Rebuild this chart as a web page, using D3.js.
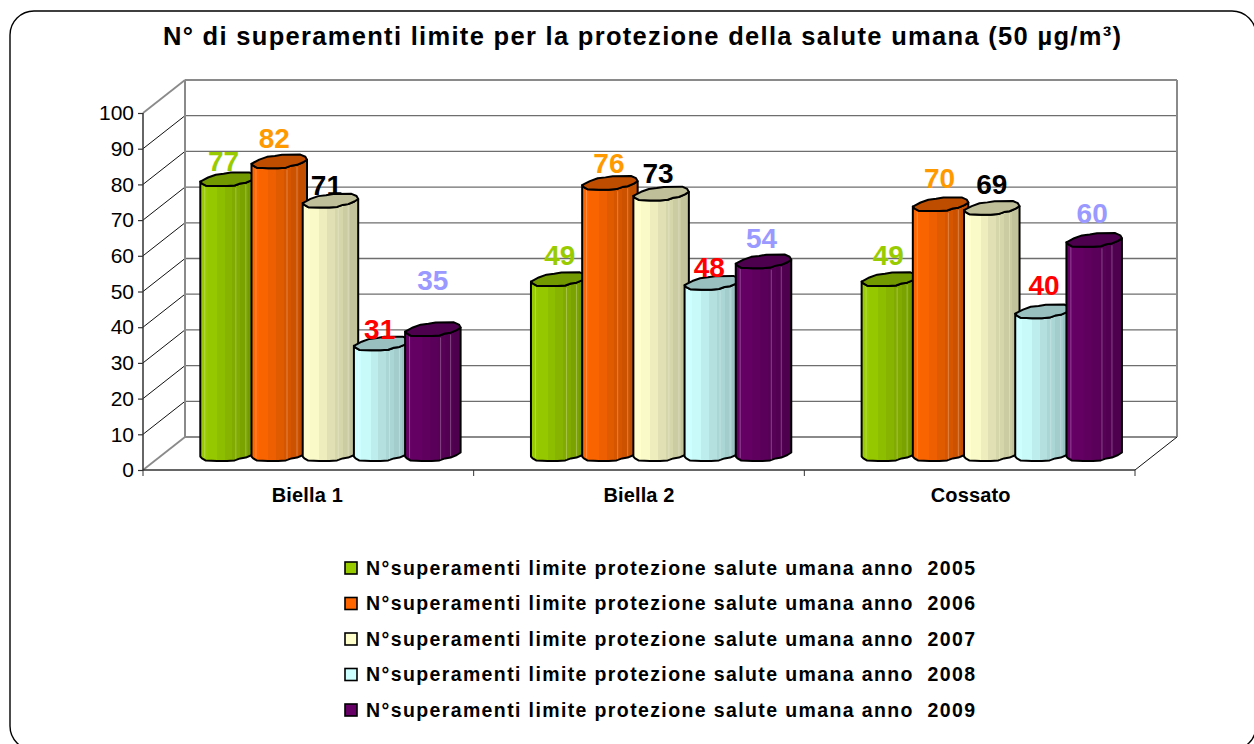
<!DOCTYPE html>
<html><head><meta charset="utf-8">
<script src="https://d3js.org/d3.v7.min.js"></script>
<style>html,body{margin:0;padding:0;background:#fff;overflow:hidden}svg{display:block}text{font-family:"Liberation Sans",Arial,sans-serif}</style>
</head><body><svg id="c" width="1254" height="744"></svg>
<script>
const titleText = "N° di superamenti limite per la protezione della salute umana (50 µg/m³)";
const categories = ["Biella 1", "Biella 2", "Cossato"];
const seriesNames = [
  "N°superamenti limite protezione salute umana anno  2005",
  "N°superamenti limite protezione salute umana anno  2006",
  "N°superamenti limite protezione salute umana anno  2007",
  "N°superamenti limite protezione salute umana anno  2008",
  "N°superamenti limite protezione salute umana anno  2009"];
const values2005 = [77, 49, 49];
const values2006 = [82, 76, 70];
const values2007 = [71, 73, 69];
const values2008 = [31, 48, 40];
const values2009 = [35, 54, 60];
const allValues = [values2005, values2006, values2007, values2008, values2009];
const yTicks = [0,10,20,30,40,50,60,70,80,90,100];
const fills = ["#99CC00","#FF6600","#FFFFCC","#CCFFFF","#660066"];
const labelColors = ["#99CC00","#FF9900","#000000","#FF0000","#9999FF"];
// hand-placed data label nudges, [dx, lift] per series per category
const labelNudge = [
  [[-4.5,25],[1,31],[-1,31]],
  [[-5,30],[-1,27],[-1,33]],
  [[-4,22.5],[-3,27],[0,30.7]],
  [[-2,21],[-3,22.6],[1,33]],
  [[0,56],[-2,30],[-2,34]]];

const svg = d3.select("#c");
const defs = svg.append("defs");

// frame
svg.append("rect").attr("x",10).attr("y",11).attr("width",1246).attr("height",739).attr("rx",24)
  .attr("fill","#fff").attr("stroke","#000").attr("stroke-width",1.4);

// title
svg.append("text").attr("x",163).attr("y",45).attr("font-size",25.5).attr("font-weight","bold")
  .attr("textLength",958).attr("lengthAdjust","spacing").text(titleText);

// projection
const frontX0=143, frontX1=1135, depthX=42, depthY=33;
const y = d3.scaleLinear().domain([0,100]).range([470,113]);
const x0 = d3.scaleBand().domain(categories).range([frontX0,frontX1]);
const barStep = 51.2, barW = 55.5, barInset = 57.3, baseLift = 9;
const gridC="#6e6e6e";

// back wall + grid
const wall = svg.append("g").attr("fill","none");
wall.selectAll("line.g").data(yTicks).join("line")
  .attr("x1",frontX0+depthX).attr("x2",frontX1+depthX)
  .attr("y1",d=>y(d)-depthY).attr("y2",d=>y(d)-depthY)
  .attr("stroke",d=>(d===0||d===100)?"#8a8a8a":gridC)
  .attr("stroke-width",d=>(d===0||d===100)?2:1.3);
wall.selectAll("line.s").data(yTicks).join("line")
  .attr("x1",frontX0).attr("x2",frontX0+depthX)
  .attr("y1",d=>y(d)).attr("y2",d=>y(d)-depthY)
  .attr("stroke",d=>(d===0||d===100)?"#8a8a8a":"#111")
  .attr("stroke-width",d=>(d===0||d===100)?1.8:1);
[frontX0+depthX, frontX1+depthX].forEach(px=>{
  wall.append("line").attr("x1",px).attr("x2",px).attr("y1",y(100)-depthY).attr("y2",y(0)-depthY)
    .attr("stroke","#8a8a8a").attr("stroke-width",2);
});
wall.append("line").attr("x1",frontX1).attr("x2",frontX1+depthX).attr("y1",y(0)).attr("y2",y(0)-depthY)
  .attr("stroke","#111").attr("stroke-width",1);

// axes
const yAxis = d3.axisLeft(y).tickValues(yTicks).tickSize(5).tickPadding(4);
const ga = svg.append("g").attr("transform",`translate(${frontX0},0)`).call(yAxis);
ga.selectAll("path").attr("stroke","#333").attr("stroke-width",1.5).attr("d",`M0,${y(100)}V${y(0)}`);
ga.selectAll("line").attr("stroke","#333").attr("stroke-width",1.2);
ga.selectAll("text").attr("font-size",21).attr("fill","#000").style("font-family",'"Liberation Sans",Arial,sans-serif');

const xAxis = d3.axisBottom(x0).tickSize(0).tickPadding(18);
const gx = svg.append("g").attr("transform",`translate(0,${y(0)})`).call(xAxis);
gx.selectAll("path").attr("stroke","#333").attr("stroke-width",1.3).attr("d",`M${frontX0},0H${frontX1}`);
gx.selectAll(".tick text").attr("font-size",20).attr("font-weight","bold").attr("fill","#000")
  .attr("dx",(d,i)=>i-1).style("letter-spacing","0.15px").style("font-family",'"Liberation Sans",Arial,sans-serif');
gx.selectAll("line.edge").data([...categories.map(c=>x0(c)),frontX1]).join("line").attr("class","edge")
  .attr("x1",d=>d).attr("x2",d=>d).attr("y1",0).attr("y2",6).attr("stroke","#333").attr("stroke-width",1);

// column shape (low-poly cylinder): [fraction of width, offset from front lip]
const lipFront = [[0,-4.5],[.03,-2.6],[.1,-.4],[.3,0],[.48,0],[.62,-.6],[.72,-2.6],[.82,-3.4],[.93,-6],[1,-8.5]];
const lipBack  = [[1,-8.5],[.97,-11.5],[.88,-13.7],[.55,-13.5],[.42,-12.3],[.28,-11.4],[.14,-8.6],[.05,-6],[0,-4.5]];
const strips = [[0,1],[.13,.98],[.3,.93],[.44,.88],[.58,.84],[.72,.8],[.86,.76],[1,.76]];
const lineGen = d3.line();

fills.forEach((c,i)=>{
  const g = defs.append("linearGradient").attr("id","body"+i);
  strips.forEach((s,k)=>{
    const col = d3.rgb(c);
    const shade = d3.rgb(col.r*s[1],col.g*s[1],col.b*s[1]).formatHex();
    g.append("stop").attr("offset",s[0]).attr("stop-color",shade);
    if(k<strips.length-1) g.append("stop").attr("offset",strips[k+1][0]).attr("stop-color",shade);
  });
});

const bars = svg.append("g");
const valueTop = v => y(v)-baseLift;
const base = y(0)-baseLift;
categories.forEach((cat,ci)=>{
  allValues.forEach((vals,si)=>{
    const v = vals[ci];
    const left = x0(cat)+barInset+si*barStep;
    const X = f=>left+f*barW;
    const topY = valueTop(v);
    const bodyPts = [...lipFront.map(p=>[X(p[0]),topY+p[1]]),
                     ...lipFront.slice().reverse().map(p=>[X(p[0]),base+p[1]])];
    const g = bars.append("g");
    g.append("path").attr("d",lineGen(bodyPts)+"Z").attr("fill",`url(#body${si})`)
      .attr("stroke","#000").attr("stroke-width",2).attr("stroke-linejoin","round");
    [.08,.64,.82].forEach((f,k)=>{
      g.append("line").attr("x1",X(f)).attr("x2",X(f))
        .attr("y1",topY+(k===0?-1:k===1?0:-3)+1.5).attr("y2",base+(k===0?-1.6:k===1?0:-3.5)-1.5)
        .attr("stroke","#fff").attr("stroke-opacity",.28).attr("stroke-width",1);
    });
    const c = d3.rgb(fills[si]);
    g.append("path").attr("d",lineGen([...lipFront,...lipBack].map(p=>[X(p[0]),topY+p[1]]))+"Z")
      .attr("fill",d3.rgb(c.r*.75,c.g*.75,c.b*.75).formatHex())
      .attr("stroke","#000").attr("stroke-width",2).attr("stroke-linejoin","round");
  });
});

// data labels
const lab = svg.append("g");
categories.forEach((cat,ci)=>{
  allValues.forEach((vals,si)=>{
    const v = vals[ci], n = labelNudge[si][ci];
    lab.append("text").attr("x",x0(cat)+barInset+si*barStep+barW/2+n[0]).attr("y",valueTop(v)-n[1])
      .attr("dy","0.36em").attr("text-anchor","middle").attr("font-size",28).attr("font-weight","bold")
      .attr("fill",labelColors[si]).text(v);
  });
});

// legend
const legendY = d3.scalePoint().domain(seriesNames).range([568,710]);
const leg = svg.append("g").selectAll("g").data(seriesNames).join("g")
  .attr("transform",d=>`translate(345,${legendY(d)})`);
leg.append("rect").attr("x",0).attr("y",-6).attr("width",12).attr("height",12)
  .attr("fill",(d,i)=>fills[i]).attr("stroke","#000").attr("stroke-width",1.6);
leg.append("text").attr("x",21).attr("y",6.5).attr("font-size",19.5).attr("font-weight","bold")
  .attr("textLength",609).attr("lengthAdjust","spacing").style("white-space","pre").text(d=>d);
</script></body></html>
